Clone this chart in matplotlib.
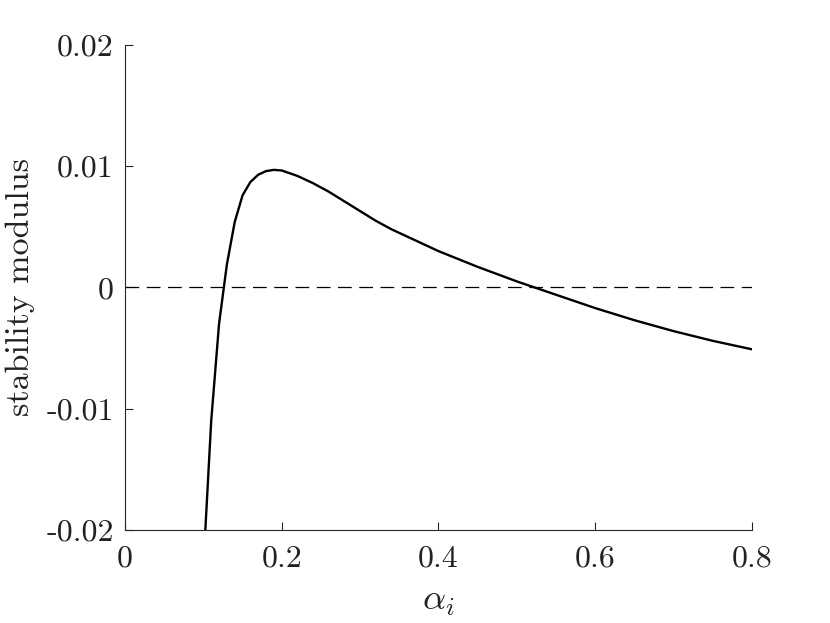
import matplotlib
matplotlib.use("Agg")
import matplotlib.pyplot as plt

# curve
alpha_i = [0.10, 0.11, 0.12, 0.13, 0.14, 0.15, 0.16, 0.17, 0.18, 0.19,
           0.20, 0.22, 0.24, 0.26, 0.28, 0.30, 0.32, 0.34, 0.36, 0.38,
           0.40, 0.45, 0.50, 0.55, 0.60, 0.65, 0.70, 0.75, 0.80]
stability = [-0.0230, -0.0110, -0.0030, 0.0019, 0.0054, 0.0076, 0.0087, 0.0093,
             0.0096, 0.0097, 0.00965, 0.0092, 0.0086, 0.0079, 0.0071, 0.0063,
             0.0055, 0.0048, 0.0042, 0.0036, 0.0030, 0.0017, 0.0005, -0.0006,
             -0.0017, -0.0027, -0.0036, -0.0044, -0.0051]

zero_x = [0.0, 0.8]
zero_y = [0.0, 0.0]

x_ticks = [0, 0.2, 0.4, 0.6, 0.8]
x_ticklabels = ["0", "0.2", "0.4", "0.6", "0.8"]
y_ticks = [-0.02, -0.01, 0, 0.01, 0.02]
y_ticklabels = ["-0.02", "-0.01", "0", "0.01", "0.02"]

plt.rcParams["font.family"] = ["cmr10", "DejaVu Serif"]
plt.rcParams["mathtext.fontset"] = "cm"
plt.rcParams["axes.unicode_minus"] = False

fig = plt.figure(figsize=(8.3, 6.23), dpi=100, facecolor="w")
ax = fig.add_axes([0.1506, 0.1493, 0.9060 - 0.1506, 0.9278 - 0.1493])

ax.plot(zero_x, zero_y, color="k", lw=0.9, dashes=(11, 6))
ax.plot(alpha_i, stability, color="k", lw=1.7)

ax.set_xlim(0, 0.8)
ax.set_ylim(-0.02, 0.02)
ax.set_xticks(x_ticks)
ax.set_xticklabels(x_ticklabels)
ax.set_yticks(y_ticks)
ax.set_yticklabels(y_ticklabels)

grey = "#262626"
for side in ["top", "right"]:
    ax.spines[side].set_visible(False)
for side in ["left", "bottom"]:
    ax.spines[side].set_color(grey)
    ax.spines[side].set_linewidth(0.8)
ax.tick_params(direction="in", length=6, width=0.8, colors=grey,
               labelcolor="#222222", labelsize=23)
ax.tick_params(axis="x", pad=11)
ax.tick_params(axis="y", pad=8)

ax.set_xlabel(r"$\alpha_i$", fontsize=26, color="#222222", labelpad=10)
ax.set_ylabel("stability modulus", fontsize=24.5, color="#222222", labelpad=8)

fig.savefig("out.png", dpi=100)
